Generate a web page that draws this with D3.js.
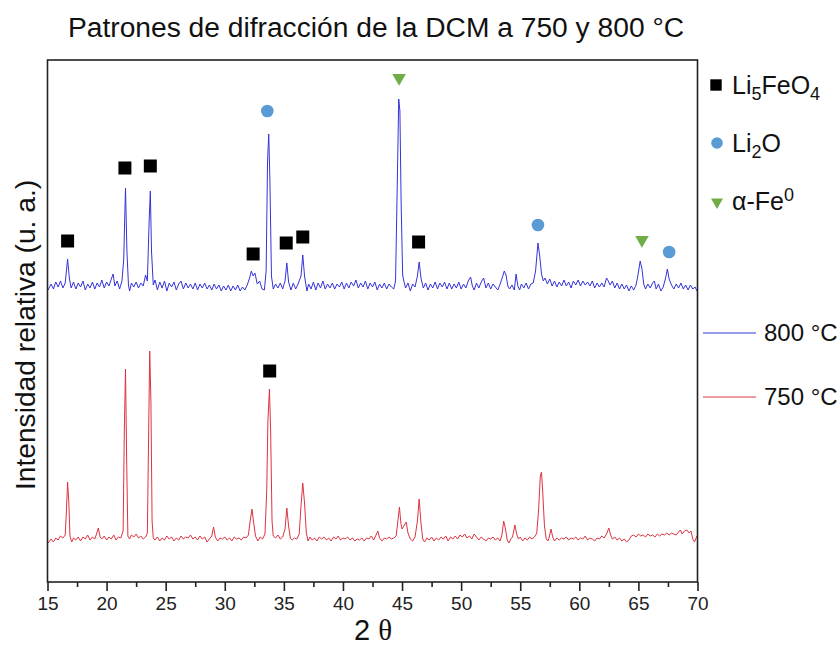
<!doctype html>
<html lang="es">

<head>
    <meta charset="utf-8">
    <title>Patrones de difracción de la DCM</title>
    <script src="https://cdn.jsdelivr.net/npm/d3@7"></script>
    <style>
        body {
            margin: 0;
            background: #fff;
        }

        svg {
            font-family: "Liberation Sans", Arial, sans-serif;
        }

        .tick text {
            font-family: "Liberation Sans Narrow", "Arial Narrow", "Liberation Sans", sans-serif;
        }
    </style>
</head>

<body>
    <svg></svg>
    <script>
        var width = 839;
        var height = 645;
        var plotLeft = 47.5, plotRight = 697.5, plotTop = 60, plotBottom = 582;

        // 2 theta tick labels
        var tickValues = [15, 20, 25, 30, 35, 40, 45, 50, 55, 60, 65, 70];

        // pattern at 800 °C : [2 theta, intensity (a.u.)]
        var pattern800 = [
            [15.05, 291], [15.3, 297], [15.5, 292], [15.7, 299], [15.9, 294], [16.1, 300], [16.3, 293], [16.5, 298],
            [16.6, 310], [16.7, 322], [16.85, 303], [17.0, 293], [17.2, 299], [17.4, 292], [17.6, 298], [17.8, 294],
            [18.0, 300], [18.2, 291], [18.4, 297], [18.6, 293], [18.8, 299], [19.0, 292], [19.2, 298], [19.4, 294],
            [19.6, 301], [19.8, 293], [20.0, 299], [20.2, 295], [20.4, 302], [20.55, 307], [20.7, 295], [20.9, 300],
            [21.1, 292], [21.3, 300], [21.45, 322], [21.6, 393], [21.72, 330], [21.85, 296], [21.95, 290], [22.1, 298],
            [22.3, 294], [22.5, 299], [22.7, 293], [22.9, 298], [23.1, 295], [23.3, 306], [23.45, 300], [23.6, 360],
            [23.7, 390], [23.8, 330], [23.95, 296], [24.1, 301], [24.3, 291], [24.5, 299], [24.7, 293], [24.9, 300],
            [25.1, 290], [25.3, 298], [25.5, 294], [25.7, 299], [25.9, 291], [26.1, 297], [26.3, 300], [26.5, 292],
            [26.7, 298], [26.9, 293], [27.1, 297], [27.3, 292], [27.5, 298], [27.7, 291], [27.9, 297], [28.1, 293],
            [28.3, 298], [28.5, 292], [28.7, 296], [28.9, 291], [29.1, 297], [29.3, 292], [29.5, 296], [29.7, 290],
            [29.9, 295], [30.1, 291], [30.3, 296], [30.5, 290], [30.7, 295], [30.9, 291], [31.1, 296], [31.3, 290],
            [31.5, 294], [31.7, 291], [31.9, 296], [32.1, 303], [32.25, 310], [32.4, 305], [32.55, 308], [32.75, 297],
            [32.95, 300], [33.15, 292], [33.35, 291], [33.5, 310], [33.62, 420], [33.72, 447], [33.82, 400], [33.95, 305],
            [34.1, 292], [34.3, 297], [34.5, 293], [34.7, 298], [34.9, 292], [35.1, 300], [35.25, 318], [35.4, 299],
            [35.6, 291], [35.8, 298], [36.0, 292], [36.2, 297], [36.45, 305], [36.6, 326], [36.75, 305], [36.95, 290],
            [37.1, 297], [37.3, 292], [37.5, 299], [37.7, 291], [37.9, 298], [38.1, 293], [38.3, 300], [38.5, 292],
            [38.7, 297], [38.9, 293], [39.1, 298], [39.3, 292], [39.5, 297], [39.7, 294], [39.9, 299], [40.1, 292],
            [40.3, 298], [40.5, 293], [40.7, 299], [40.9, 295], [41.1, 301], [41.3, 293], [41.5, 298], [41.7, 294],
            [41.9, 300], [42.1, 292], [42.3, 298], [42.5, 294], [42.7, 299], [42.9, 291], [43.1, 297], [43.3, 293],
            [43.5, 298], [43.7, 292], [43.9, 297], [44.1, 294], [44.3, 292], [44.45, 300], [44.6, 400], [44.72, 482],
            [44.82, 470], [44.92, 380], [45.05, 306], [45.15, 300], [45.3, 293], [45.5, 298], [45.7, 290], [45.9, 297],
            [46.1, 294], [46.3, 305], [46.45, 319], [46.6, 303], [46.8, 293], [47.0, 298], [47.2, 291], [47.4, 297],
            [47.6, 293], [47.8, 299], [48.0, 292], [48.2, 298], [48.4, 294], [48.6, 299], [48.8, 292], [49.0, 298],
            [49.2, 292], [49.4, 297], [49.6, 293], [49.8, 299], [50.0, 292], [50.2, 297], [50.4, 293], [50.6, 300],
            [50.8, 304], [50.95, 295], [51.1, 291], [51.3, 298], [51.5, 293], [51.7, 299], [51.9, 303], [52.1, 293],
            [52.3, 298], [52.5, 292], [52.7, 297], [52.9, 294], [53.1, 291], [53.3, 297], [53.5, 304], [53.65, 310],
            [53.8, 306], [53.95, 295], [54.1, 292], [54.3, 296], [54.5, 291], [54.65, 307], [54.8, 295], [54.95, 291],
            [55.1, 297], [55.3, 293], [55.5, 298], [55.7, 292], [55.9, 297], [56.1, 298], [56.3, 310], [56.5, 338],
            [56.65, 325], [56.8, 307], [56.95, 300], [57.1, 303], [57.3, 297], [57.5, 302], [57.7, 295], [57.9, 300],
            [58.1, 294], [58.3, 299], [58.5, 295], [58.7, 301], [58.9, 295], [59.1, 299], [59.3, 293], [59.5, 300],
            [59.7, 296], [59.9, 301], [60.1, 295], [60.3, 300], [60.5, 296], [60.7, 299], [60.9, 295], [61.1, 300],
            [61.3, 293], [61.5, 298], [61.7, 294], [61.9, 298], [62.1, 294], [62.3, 303], [62.45, 300], [62.6, 296],
            [62.8, 300], [63.0, 293], [63.2, 298], [63.4, 292], [63.6, 297], [63.8, 292], [64.0, 296], [64.2, 290],
            [64.4, 295], [64.6, 291], [64.8, 296], [64.95, 305], [65.15, 320], [65.3, 312], [65.45, 297], [65.6, 292],
            [65.8, 297], [66.0, 293], [66.2, 298], [66.35, 300], [66.5, 292], [66.7, 297], [66.9, 290], [67.1, 294],
            [67.3, 303], [67.45, 312], [67.6, 302], [67.8, 296], [68.0, 292], [68.2, 297], [68.4, 293], [68.6, 298],
            [68.8, 292], [69.0, 296], [69.2, 291], [69.4, 296], [69.6, 292], [69.8, 294], [69.95, 290]
        ];

        // pattern at 750 °C : [2 theta, intensity (a.u.)]
        var pattern750 = [
            [15.05, 38], [15.3, 42], [15.5, 39], [15.7, 43], [15.9, 41], [16.1, 45], [16.3, 43], [16.5, 46],
            [16.6, 70], [16.7, 99], [16.8, 80], [16.9, 45], [17.05, 39], [17.2, 43], [17.4, 41], [17.6, 44],
            [17.8, 40], [18.0, 44], [18.2, 42], [18.4, 46], [18.6, 41], [18.8, 44], [19.0, 42], [19.15, 47],
            [19.3, 53], [19.45, 44], [19.6, 42], [19.8, 45], [20.0, 41], [20.2, 44], [20.4, 42], [20.6, 46],
            [20.8, 41], [21.0, 44], [21.2, 43], [21.4, 50], [21.5, 150], [21.6, 212], [21.7, 120], [21.8, 45],
            [21.95, 42], [22.1, 46], [22.3, 44], [22.5, 47], [22.7, 43], [22.9, 45], [23.1, 42], [23.3, 44],
            [23.45, 48], [23.55, 140], [23.65, 230], [23.75, 180], [23.85, 60], [23.95, 43], [24.1, 41], [24.3, 44],
            [24.5, 40], [24.7, 43], [24.9, 41], [25.1, 45], [25.3, 42], [25.5, 44], [25.7, 40], [25.9, 43],
            [26.1, 41], [26.3, 45], [26.5, 42], [26.7, 44], [26.9, 43], [27.1, 46], [27.3, 42], [27.5, 44],
            [27.7, 41], [27.9, 45], [28.1, 42], [28.3, 44], [28.5, 39], [28.7, 42], [28.9, 45], [29.05, 54],
            [29.2, 44], [29.4, 40], [29.6, 43], [29.8, 42], [30.0, 44], [30.2, 41], [30.4, 43], [30.6, 40],
            [30.8, 44], [31.0, 42], [31.2, 43], [31.4, 41], [31.6, 44], [31.8, 43], [32.0, 46], [32.15, 60],
            [32.3, 72], [32.45, 58], [32.6, 45], [32.8, 40], [33.0, 44], [33.2, 42], [33.4, 47], [33.55, 90],
            [33.65, 160], [33.78, 192], [33.88, 150], [34.0, 60], [34.1, 45], [34.3, 43], [34.5, 46], [34.7, 42],
            [34.9, 44], [35.1, 52], [35.25, 73], [35.4, 55], [35.55, 43], [35.7, 41], [35.9, 43], [36.1, 42],
            [36.3, 47], [36.45, 75], [36.6, 98], [36.75, 78], [36.9, 48], [37.05, 40], [37.2, 44], [37.4, 41],
            [37.6, 43], [37.8, 40], [38.0, 44], [38.2, 42], [38.4, 44], [38.6, 41], [38.8, 43], [39.0, 40],
            [39.2, 44], [39.4, 42], [39.6, 45], [39.8, 41], [40.0, 43], [40.2, 42], [40.4, 44], [40.6, 41],
            [40.8, 43], [41.0, 40], [41.2, 42], [41.4, 41], [41.6, 43], [41.8, 40], [42.0, 43], [42.2, 42],
            [42.4, 45], [42.6, 41], [42.8, 46], [42.95, 50], [43.1, 43], [43.3, 40], [43.5, 43], [43.7, 42],
            [43.9, 44], [44.1, 42], [44.3, 43], [44.5, 45], [44.65, 60], [44.78, 74], [44.9, 58], [45.0, 52],
            [45.15, 55], [45.35, 59], [45.5, 48], [45.7, 42], [45.9, 40], [46.1, 44], [46.3, 60], [46.45, 82],
            [46.6, 58], [46.75, 42], [46.9, 39], [47.1, 43], [47.3, 41], [47.5, 44], [47.7, 40], [47.9, 43],
            [48.1, 41], [48.3, 44], [48.5, 42], [48.7, 45], [48.9, 40], [49.1, 44], [49.3, 42], [49.5, 45],
            [49.7, 42], [49.9, 46], [50.1, 44], [50.3, 47], [50.5, 43], [50.7, 45], [50.9, 42], [51.1, 47],
            [51.3, 44], [51.5, 41], [51.7, 44], [51.9, 42], [52.1, 40], [52.3, 43], [52.5, 42], [52.7, 44],
            [52.9, 41], [53.1, 43], [53.3, 40], [53.45, 46], [53.6, 60], [53.75, 52], [53.9, 41], [54.05, 38],
            [54.2, 42], [54.35, 44], [54.55, 56], [54.7, 47], [54.85, 42], [55.0, 44], [55.2, 40], [55.4, 43],
            [55.6, 41], [55.8, 44], [56.0, 42], [56.2, 44], [56.4, 48], [56.55, 70], [56.7, 105], [56.8, 109],
            [56.9, 90], [57.05, 55], [57.2, 42], [57.35, 40], [57.5, 46], [57.6, 52], [57.75, 44], [57.9, 40],
            [58.1, 43], [58.3, 41], [58.5, 43], [58.7, 42], [58.9, 44], [59.1, 41], [59.3, 43], [59.5, 42],
            [59.7, 44], [59.9, 41], [60.1, 43], [60.3, 42], [60.5, 45], [60.7, 41], [60.9, 43], [61.1, 42],
            [61.3, 40], [61.5, 43], [61.7, 42], [61.9, 45], [62.1, 43], [62.3, 47], [62.5, 53], [62.65, 46],
            [62.8, 42], [63.0, 44], [63.2, 41], [63.4, 43], [63.6, 40], [63.8, 42], [64.0, 39], [64.2, 41],
            [64.4, 45], [64.6, 46], [64.8, 44], [65.0, 47], [65.2, 45], [65.4, 46], [65.6, 44], [65.8, 47],
            [66.0, 45], [66.2, 46], [66.4, 44], [66.6, 47], [66.8, 45], [67.0, 47], [67.2, 46], [67.4, 48],
            [67.6, 46], [67.8, 48], [68.0, 47], [68.2, 46], [68.4, 49], [68.55, 51], [68.7, 47], [68.9, 50],
            [69.1, 51], [69.3, 48], [69.45, 50], [69.6, 42], [69.75, 39], [69.95, 45]
        ];

        // phase markers : [2 theta, height (a.u.)]
        var li5feo4Marks = [[16.7, 340], [21.55, 413], [23.7, 415], [32.4, 327], [35.2, 338], [36.6, 344], [46.4, 339], [33.8, 210]];
        var li2oMarks = [[33.6, 470], [56.5, 356], [67.6, 329]];
        var feMarks = [[44.75, 503], [65.3, 341]];

        var seriesNames = ["800 °C", "750 °C"];
        var seriesColors = ["#3434d8", "#dc3442"];

        var svg = d3.select('svg').attr('width', width).attr('height', height);

        var xScale = d3.scaleLinear().domain([15, 70]).range([plotLeft, plotRight]);
        var yScale = d3.scaleLinear().domain([-1, 521]).range([plotBottom, plotTop]);

        var line = d3.line()
            .x(function (d) { return xScale(d[0]); })
            .y(function (d) { return yScale(d[1]); });

        // patterns
        [pattern800, pattern750].forEach(function (p, i) {
            svg.append('path')
                .datum(p)
                .attr('d', line)
                .attr('fill', 'none')
                .attr('stroke', seriesColors[i])
                .attr('stroke-width', 1)
                .attr('stroke-linejoin', 'round');
        });

        // markers
        var sq = d3.symbol().type(d3.symbolSquare).size(169);
        var tri = d3.symbol().type(d3.symbolTriangle).size(80);

        svg.selectAll('.sq')
            .data(li5feo4Marks)
            .enter()
            .append('path')
            .attr('d', sq)
            .attr('transform', function (d) { return 'translate(' + xScale(d[0]) + ',' + yScale(d[1]) + ')'; })
            .attr('fill', '#000');

        svg.selectAll('.ci')
            .data(li2oMarks)
            .enter()
            .append('circle')
            .attr('cx', function (d) { return xScale(d[0]); })
            .attr('cy', function (d) { return yScale(d[1]); })
            .attr('r', 6.3)
            .attr('fill', '#5b9bd5');

        svg.selectAll('.tr')
            .data(feMarks)
            .enter()
            .append('path')
            .attr('d', tri)
            .attr('transform', function (d) { return 'translate(' + xScale(d[0]) + ',' + yScale(d[1]) + ') rotate(180)'; })
            .attr('fill', '#70ad47');

        // frame
        svg.append('rect')
            .attr('x', plotLeft).attr('y', plotTop)
            .attr('width', plotRight - plotLeft).attr('height', plotBottom - plotTop)
            .attr('fill', 'none')
            .attr('stroke', '#222')
            .attr('stroke-width', 1.6);

        // x axis, major + minor ticks
        var xAxis = d3.axisBottom(xScale)
            .tickValues(tickValues)
            .tickSize(9)
            .tickPadding(6)
            .tickFormat(d3.format('d'));

        var minor = d3.axisBottom(xScale)
            .tickValues(tickValues.slice(0, -1).map(function (v) { return v + 2.5; }))
            .tickSize(5)
            .tickFormat('');

        var gx = svg.append('g')
            .attr('transform', 'translate(0,' + plotBottom + ')')
            .call(xAxis);
        gx.select('.domain').remove();
        gx.selectAll('line').attr('stroke', '#222').attr('stroke-width', 1.6);
        gx.selectAll('text').attr('font-size', 19).attr('fill', '#222');

        var gm = svg.append('g')
            .attr('transform', 'translate(0,' + plotBottom + ')')
            .call(minor);
        gm.select('.domain').remove();
        gm.selectAll('line').attr('stroke', '#222').attr('stroke-width', 1.6);

        // titles
        svg.append('text')
            .attr('x', 376).attr('y', 37)
            .attr('text-anchor', 'middle')
            .attr('font-size', 28.2)
            .attr('fill', '#111')
            .text('Patrones de difracción de la DCM a 750 y 800 °C');

        var xl = svg.append('text')
            .attr('x', 373).attr('y', 640)
            .attr('text-anchor', 'middle')
            .attr('font-size', 29)
            .attr('fill', '#111');
        xl.append('tspan').text('2 ');
        xl.append('tspan').attr('font-family', '"Liberation Serif", serif').text('θ');

        svg.append('text')
            .attr('transform', 'translate(35,335) rotate(-90)')
            .attr('text-anchor', 'middle')
            .attr('font-size', 28.2)
            .attr('fill', '#111')
            .text('Intensidad relativa (u. a.)');

        // phase legend
        var lx = 716;
        svg.append('path').attr('d', d3.symbol().type(d3.symbolSquare).size(130))
            .attr('transform', 'translate(' + lx + ',85)').attr('fill', '#000');
        svg.append('circle').attr('cx', lx + 1).attr('cy', 143).attr('r', 5.8).attr('fill', '#5b9bd5');
        svg.append('path').attr('d', d3.symbol().type(d3.symbolTriangle).size(62))
            .attr('transform', 'translate(' + (lx + 1) + ',202) rotate(180)').attr('fill', '#70ad47');

        var t1 = svg.append('text').attr('x', 732).attr('y', 94).attr('font-size', 25).attr('fill', '#111');
        t1.append('tspan').text('Li');
        t1.append('tspan').attr('font-size', 18).attr('dy', 6).text('5');
        t1.append('tspan').attr('dy', -6).text('FeO');
        t1.append('tspan').attr('font-size', 18).attr('dy', 6).text('4');

        var t2 = svg.append('text').attr('x', 732).attr('y', 152).attr('font-size', 25).attr('fill', '#111');
        t2.append('tspan').text('Li');
        t2.append('tspan').attr('font-size', 18).attr('dy', 6).text('2');
        t2.append('tspan').attr('dy', -6).text('O');

        var t3 = svg.append('text').attr('x', 732).attr('y', 210).attr('font-size', 25).attr('fill', '#111');
        t3.append('tspan').text('α-Fe');
        t3.append('tspan').attr('font-size', 18).attr('dy', -9).text('0');

        // series legend
        var legendY = [333, 397];
        seriesNames.forEach(function (name, i) {
            svg.append('line')
                .attr('x1', 703).attr('x2', 756)
                .attr('y1', legendY[i]).attr('y2', legendY[i])
                .attr('stroke', seriesColors[i])
                .attr('stroke-width', 1);
            svg.append('text')
                .attr('x', 764).attr('y', legendY[i] + 8)
                .attr('font-size', 24)
                .attr('fill', '#111')
                .text(name);
        });
    </script>

</body>

</html>
